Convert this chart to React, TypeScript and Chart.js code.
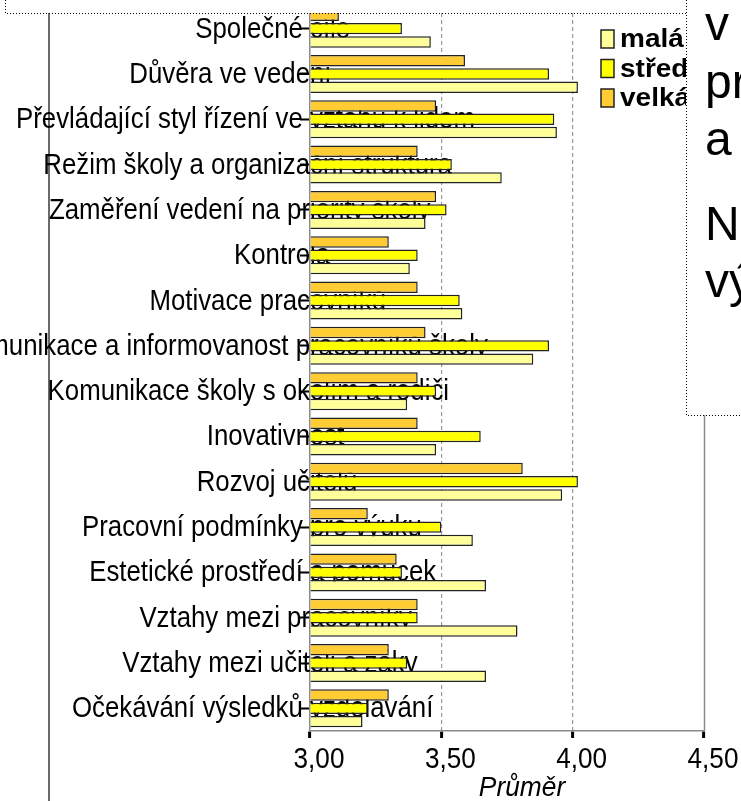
import React, { useEffect, useRef } from 'react';
import { Chart, registerables } from 'chart.js';

Chart.register(...registerables);

// Visible part of each category label (left of the axis) and its hidden continuation
const categoryHeads = [
  'Společné ',
  'Důvěra ve vede',
  'Převládající styl řízení ve ',
  'Režim školy a organiza',
  'Zaměření vedení na pr',
  'Kontro',
  'Motivace prac',
  'Komunikace a informovanost p',
  'Komunikace školy s ok',
  'Inovativn',
  'Rozvoj uč',
  'Pracovní podmínky ',
  'Estetické prostředí ',
  'Vztahy mezi pr',
  'Vztahy mezi učit',
  'Očekávání výsledků ',
];
const categoryTails = [
  'cíle',
  'ní',
  'vztahu k lidem',
  'ční struktura',
  'iority školy',
  'la',
  'ovníků',
  'racovníků školy',
  'olím a rodiči',
  'ost',
  'itelů',
  'pro výuku',
  'a pomůcek',
  'acovníky',
  'eli a žáky',
  'vzdělávání',
];
const categories = categoryHeads.map((h, i) => h + categoryTails[i]);

const seriesNames = ['malá', 'střední', 'velká'];
const mala = [3.46, 4.02, 3.94, 3.73, 3.44, 3.38, 3.58, 3.85, 3.37, 3.48, 3.96, 3.62, 3.67, 3.79, 3.67, 3.2];
const stredni = [3.35, 3.91, 3.93, 3.54, 3.52, 3.41, 3.57, 3.91, 3.48, 3.65, 4.02, 3.5, 3.35, 3.41, 3.37, 3.22];
const velka = [3.11, 3.59, 3.48, 3.41, 3.48, 3.3, 3.41, 3.44, 3.41, 3.41, 3.81, 3.22, 3.33, 3.41, 3.3, 3.3];

const axisMin = 3;
const axisMax = 4.5;
const axisStep = 0.5;
const axisTitle = 'Průměr';

const noteParagraphs = [
  ['v oblasti', 'práce', 'a řízení'],
  ['Nejvyšší', 'výsledky'],
];

const PALE = '#FFFF99';
const YELLOW = '#FFFF00';
const ORANGE = '#FFCC33';
const BAR_BORDER = '#222222';
const seriesColors = [PALE, YELLOW, ORANGE];

const FAMILY = '"Liberation Sans", Arial, sans-serif';
const LABEL_FONT = `30px ${FAMILY}`;
const LABEL_SX = 0.86;
const TICK_FONT = `29px ${FAMILY}`;
const TICK_SX = 0.9;
const TITLE_FONT = `italic 28px ${FAMILY}`;
const TITLE_SX = 0.94;

function fmt(v: number) {
  return v.toFixed(2).replace('.', ',');
}

function drawText(
  ctx: CanvasRenderingContext2D,
  s: string,
  x: number,
  y: number,
  align: 'left' | 'right' | 'center',
  font: string,
  sx: number,
  color = '#000'
) {
  ctx.save();
  ctx.font = font;
  ctx.fillStyle = color;
  ctx.textBaseline = 'alphabetic';
  ctx.textAlign = 'left';
  const w = ctx.measureText(s).width * sx;
  const x0 = align === 'left' ? x : align === 'right' ? x - w : x - w / 2;
  ctx.translate(x0, y);
  ctx.scale(sx, 1);
  ctx.fillText(s, 0, 0);
  ctx.restore();
}

const decor = {
  id: 'decor',
  beforeDraw(chart: any) {
    const ctx: CanvasRenderingContext2D = chart.ctx;
    ctx.save();
    ctx.strokeStyle = '#6a6a6a';
    ctx.lineWidth = 2;
    ctx.beginPath();
    ctx.moveTo(49, 13);
    ctx.lineTo(49, chart.height);
    ctx.stroke();
    ctx.restore();
  },
  beforeDatasetsDraw(chart: any) {
    const ctx: CanvasRenderingContext2D = chart.ctx;
    const x = chart.scales.x;
    const y = chart.scales.y;
    const area = chart.chartArea;
    const rx = Math.round(x.getPixelForValue(axisMax)) + 0.5;
    ctx.save();
    ctx.strokeStyle = '#8a8a8a';
    ctx.lineWidth = 1.5;
    ctx.beginPath();
    ctx.moveTo(rx, area.top);
    ctx.lineTo(rx, area.bottom);
    ctx.stroke();
    ctx.restore();

    ctx.save();
    ctx.font = LABEL_FONT;
    categories.forEach((_, i) => {
      const cy = y.getPixelForValue(i);
      const headW = ctx.measureText(categoryHeads[i]).width * LABEL_SX;
      drawText(ctx, categories[i], x.left - headW, cy + 9, 'left', LABEL_FONT, LABEL_SX);
    });
    ctx.restore();

    x.ticks.forEach((t: any) => {
      const px = x.getPixelForValue(t.value);
      drawText(ctx, fmt(t.value), px + 9, x.top + 37, 'center', TICK_FONT, TICK_SX);
    });
    drawText(ctx, axisTitle, (x.left + x.right) / 2 + 15, x.top + 65, 'center', TITLE_FONT, TITLE_SX);
  },
  afterDraw(chart: any) {
    const ctx: CanvasRenderingContext2D = chart.ctx;
    const W = chart.width;
    seriesNames.forEach((name, k) => {
      const top = 30 + k * 29.5;
      ctx.save();
      ctx.fillStyle = seriesColors[k];
      ctx.fillRect(601, top, 13, 18);
      ctx.strokeStyle = BAR_BORDER;
      ctx.lineWidth = 1.5;
      ctx.strokeRect(601, top, 13, 18);
      ctx.restore();
      drawText(ctx, name, 620, top + 17, 'left', `bold 25px ${FAMILY}`, 1.12);
    });

    ctx.save();
    ctx.fillStyle = '#fff';
    ctx.fillRect(5, 0, 681, 13);
    ctx.fillRect(686, 0, W - 686, 415);
    ctx.strokeStyle = '#000';
    ctx.lineWidth = 1;
    ctx.setLineDash([1, 2]);
    ctx.beginPath();
    ctx.moveTo(5.5, 0);
    ctx.lineTo(5.5, 13.5);
    ctx.lineTo(686.5, 13.5);
    ctx.stroke();
    ctx.beginPath();
    ctx.moveTo(686.5, 0);
    ctx.lineTo(686.5, 415.5);
    ctx.lineTo(W, 415.5);
    ctx.stroke();
    ctx.restore();

    const baselines = [[40, 98, 155], [240, 297]];
    noteParagraphs.forEach((lines, p) => {
      lines.forEach((line, l) => {
        drawText(ctx, line, 705, baselines[p][l], 'left', `48px ${FAMILY}`, 1);
      });
    });
  },
};

export default function App() {
  const ref = useRef<HTMLCanvasElement | null>(null);
  useEffect(() => {
    if (!ref.current) return;
    const barCommon = {
      base: axisMin,
      borderWidth: 1.5,
      borderColor: BAR_BORDER,
      categoryPercentage: 0.88,
      barPercentage: 0.86,
    };
    const chart = new Chart(ref.current, {
      type: 'bar',
      data: {
        labels: categories,
        datasets: [
          { label: seriesNames[2], data: velka, backgroundColor: ORANGE, ...barCommon },
          { label: seriesNames[1], data: stredni, backgroundColor: YELLOW, ...barCommon },
          { label: seriesNames[0], data: mala, backgroundColor: PALE, ...barCommon },
        ],
      },
      options: {
        indexAxis: 'y',
        responsive: false,
        maintainAspectRatio: false,
        animation: false,
        devicePixelRatio: 1,
        layout: { padding: { left: 300, right: 37, top: 6, bottom: 0 } },
        plugins: { legend: { display: false }, tooltip: { enabled: false } },
        scales: {
          x: {
            type: 'linear',
            min: axisMin,
            max: axisMax,
            afterFit: (s: any) => {
              s.height = 70;
            },
            ticks: { stepSize: axisStep, display: false },
            grid: {
              color: (c: any) =>
                c.tick && c.tick.value > axisMin && c.tick.value < axisMax ? '#9a9a9a' : 'rgba(0,0,0,0)',
              lineWidth: 1.2,
              drawTicks: true,
              tickLength: 7,
              tickColor: '#000',
              tickWidth: 3,
            },
            border: { color: '#8a8a8a', width: 1.5, dash: [4, 3] },
          },
          y: {
            type: 'category',
            afterFit: (s: any) => {
              s.width = 10;
            },
            ticks: { display: false },
            grid: {
              offset: false,
              drawOnChartArea: false,
              drawTicks: true,
              tickLength: 10,
              tickColor: '#000',
              tickWidth: 2,
            },
            border: { color: '#8a8a8a', width: 1.5 },
          },
        },
      } as any,
      plugins: [decor],
    });
    return () => chart.destroy();
  }, []);
  return (
    <div style={{ position: 'absolute', left: 0, top: 0, width: 741, height: 801, background: '#fff' }}>
      <canvas ref={ref} width={741} height={801} style={{ width: 741, height: 801, display: 'block' }} />
    </div>
  );
}
